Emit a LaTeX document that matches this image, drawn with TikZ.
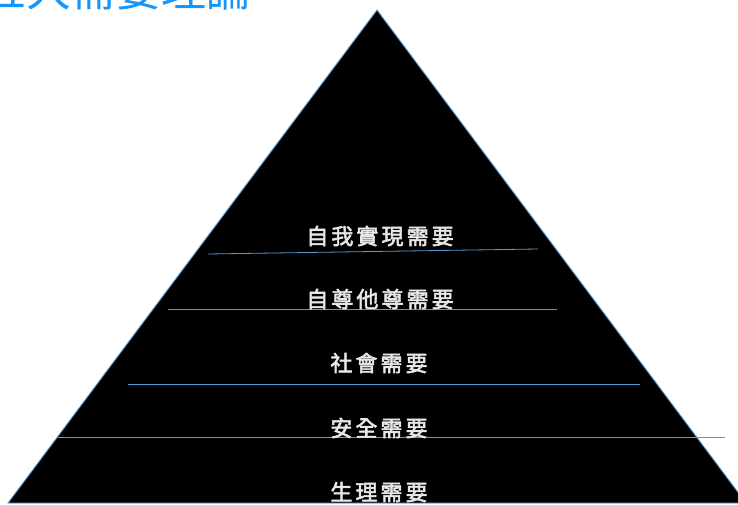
\documentclass[tikz,border=0pt]{standalone}
\usepackage{fontspec}
\newfontfamily\cjk{Noto Sans CJK TC}
\newfontfamily\cjklabel[LetterSpace=14,FakeBold=2.5]{Noto Sans CJK TC}
\definecolor{titleblue}{RGB}{20,150,250}
\definecolor{edgeblue}{RGB}{91,155,213}
\definecolor{labelgray}{RGB}{230,230,230}
\begin{document}
\begin{tikzpicture}[x=1pt,y=-1pt,
  level/.style={text=labelgray,font=\cjklabel\fontsize{22}{22}\selectfont,inner sep=0pt,anchor=center},
  divider/.style={draw=edgeblue,line width=0.8pt}]
\useasboundingbox (0,0) rectangle (738,505);
\clip (0,0) rectangle (738,505);
\fill[white] (0,0) rectangle (738,505);
\node[anchor=base west,inner sep=0pt,text=titleblue,font=\cjk\fontsize{45}{45}\selectfont] (title) at (-19,7) {五大需要理論};
\coordinate (apex) at (377,10);
\coordinate (bl) at (8,503);
\coordinate (br) at (746,503);
\filldraw[fill=black,draw=edgeblue,line width=0.9pt] (apex) -- (bl) -- (br) -- cycle;
\coordinate (l1a) at (208,254); \coordinate (l1b) at (538,249);
\coordinate (l2a) at (168,309); \coordinate (l2b) at (557,309);
\coordinate (l3a) at (128,384); \coordinate (l3b) at (640,384);
\coordinate (l4a) at (58,437); \coordinate (l4b) at (725,437);
\draw[divider] (l1a) -- (l1b);
\draw[divider] (l2a) -- (l2b);
\draw[divider] (l3a) -- (l3b);
\draw[divider] (l4a) -- (l4b);
\node[level] (n1) at (380,236) {自我實現需要};
\node[level] (n2) at (380,299) {自尊他尊需要};
\node[level] (n3) at (379,363) {社會需要};
\node[level] (n4) at (379,428) {安全需要};
\node[level] (n5) at (379,492) {生理需要};
\end{tikzpicture}
\end{document}
